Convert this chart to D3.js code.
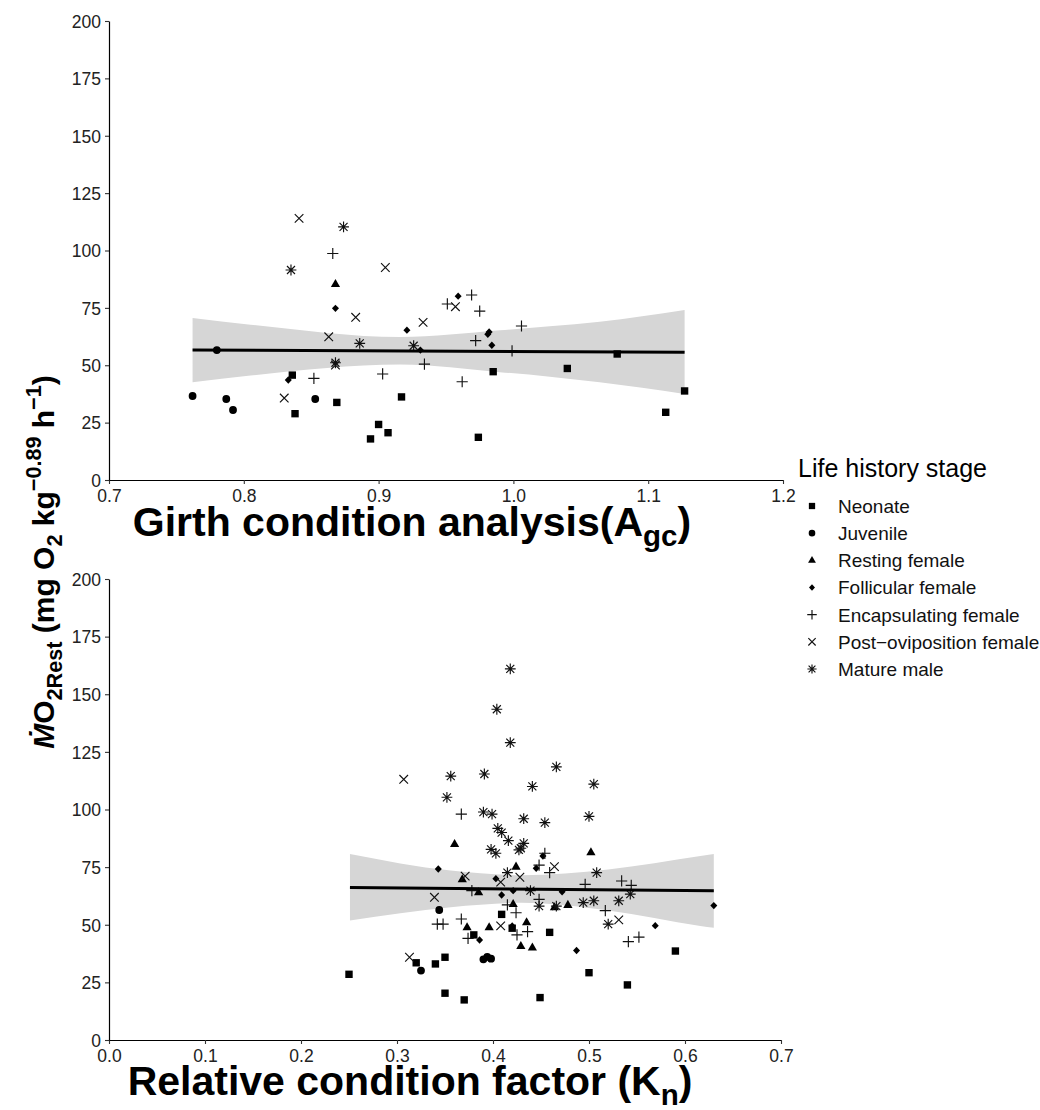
<!DOCTYPE html>
<html><head><meta charset="utf-8">
<script src="https://cdn.jsdelivr.net/npm/d3@7"></script>
<style>
body{margin:0;background:#fff;}
text{font-family:"Liberation Sans",Arial,"DejaVu Sans",sans-serif;}
</style></head>
<body><svg id="c" width="1040" height="1110"></svg>
<script>
// ---------- data ----------
const stages = ["Neonate","Juvenile","Resting female","Follicular female","Encapsulating female","Post\u2212oviposition female","Mature male"];
const stageShapes = ["square","circle","triangle","diamond","plus","cross","asterisk"];
const yTicks = [0,25,50,75,100,125,150,175,200];
const agcTicks = [0.7,0.8,0.9,1.0,1.1,1.2];
const knTicks = [0.0,0.1,0.2,0.3,0.4,0.5,0.6,0.7];

// Top panel: girth condition analysis (Agc)
const agcStage = [0,0,0,0,0,0,0,0,0,0,0,0,0, 1,1,1,1,1, 2, 3,3,3,3,3,3,3,3, 4,4,4,4,4,4,4,4,4,4,4, 5,5,5,5,5,5,5,5, 6,6,6,6,6];
const agcX = [0.836,0.869,0.917,0.838,0.900,0.907,0.894,0.974,0.985,1.040,1.077,1.127,1.113,
  0.762,0.780,0.787,0.792,0.853,
  0.868,
  0.959,0.868,0.921,0.982,0.981,0.984,0.931,0.833,
  0.866,0.969,0.951,0.975,1.006,0.972,0.999,0.934,0.852,0.903,0.962,
  0.841,0.905,0.957,0.883,0.933,0.863,0.868,0.830,
  0.874,0.835,0.886,0.926,0.868];
const agcY = [45.7,33.8,36.2,28.9,24.2,20.6,17.9,18.6,47.2,48.6,54.9,38.8,29.5,
  36.6,56.6,35.3,30.5,35.3,
  85.4,
  80.1,74.8,65.3,64.5,63.5,58.7,56.6,43.6,
  98.7,80.6,76.7,73.6,67.1,60.7,56.3,50.5,44.3,46.2,42.8,
  114.0,92.6,75.5,70.9,68.7,62.4,50.1,35.7,
  110.3,91.5,59.5,58.5,51.1];
const agcFitX = [0.762,1.127];
const agcFitY = [56.6,55.7];
const agcBandX  = [0.762,0.805,0.916,0.990,1.027,1.064,1.127];
const agcBandLo = [42.6,45.5,50.3,47.0,45.0,42.6,37.5];
const agcBandHi = [70.6,67.7,62.3,65.2,67.0,69.0,74.1];

// Bottom panel: relative condition factor (Kn)
const knStage = [0,0,0,0,0,0,0,0,0,0,0,0,0,0,
  1,1,1,1,1,
  2,2,2,2,2,2,2,2,2,2,2,2,2,
  3,3,3,3,3,3,3,3,3,3,3,3,
  4,4,4,4,4,4,4,4,4,4,4,4,4,4,4,4,4,4,4,4,
  5,5,5,5,5,5,5,5,5,
  6,6,6,6,6,6,6,6,6,6,6,6,6,6,6,6,6,6,6,6,6,6,6,6,6,6,6,6,6,6,6,6];
const knX = [0.409,0.380,0.320,0.340,0.350,0.250,0.350,0.370,0.420,0.459,0.590,0.500,0.540,0.449,
  0.344,0.325,0.390,0.394,0.398,
  0.360,0.368,0.385,0.373,0.396,0.502,0.424,0.421,0.464,0.478,0.435,0.429,0.441,
  0.343,0.403,0.386,0.452,0.445,0.421,0.472,0.409,0.420,0.569,0.487,0.630,
  0.378,0.342,0.348,0.367,0.374,0.454,0.448,0.459,0.496,0.534,0.544,0.448,0.415,0.424,0.517,0.436,0.425,0.541,0.552,0.367,
  0.371,0.339,0.313,0.464,0.428,0.408,0.531,0.408,0.307,
  0.404,0.418,0.418,0.466,0.441,0.505,0.500,0.432,0.356,0.391,0.352,0.390,0.399,0.405,0.409,0.416,0.432,0.429,0.427,0.398,0.403,0.454,0.508,0.415,0.439,0.543,0.448,0.494,0.505,0.531,0.466,0.520];
const knY = [54.5,45.6,33.5,33.0,35.9,28.5,20.3,17.4,48.5,46.7,38.6,29.2,23.9,18.4,
  56.4,30.1,35.0,36.1,35.3,
  85.0,69.7,64.1,48.9,48.9,81.4,75.2,59.0,57.6,58.6,51.1,40.8,40.1,
  74.2,70.0,43.4,79.8,74.5,64.8,64.3,62.9,49.5,49.6,38.8,58.3,
  64.8,50.3,50.3,52.5,44.1,81.0,75.9,72.6,67.5,69.0,67.1,61.0,58.6,55.2,56.1,47.0,45.6,42.7,44.6,98.0,
  71.1,61.9,35.9,75.2,70.6,68.5,52.1,49.5,113.1,
  143.5,161.0,129.0,118.5,110.0,111.0,97.0,96.0,114.5,115.4,105.3,98.9,98.0,91.8,90.0,86.5,85.3,83.2,82.5,82.7,81.0,94.3,72.6,72.6,64.8,63.3,58.1,59.6,60.4,60.4,58.1,50.3];
const knFitX = [0.251,0.630];
const knFitY = [66.2,64.7];
const knBandX  = [0.251,0.356,0.430,0.520,0.616,0.630];
const knBandLo = [51.8,57.6,59.5,56.2,49.5,48.7];
const knBandHi = [80.7,73.5,71.5,74.0,79.8,80.7];

// ---------- drawing ----------
const svg = d3.select("#c");
svg.append("rect").attr("width",1040).attr("height",1110).attr("fill","#fff");

function shapePath(type, k){
  const s = k||1;
  switch(type){
    case "square": {const h=3.7*s; return `M${-h},${-h}h${2*h}v${2*h}h${-2*h}z`;}
    case "circle": {const r=3.9*s; return `M${r},0A${r},${r} 0 1,1 ${-r},0A${r},${r} 0 1,1 ${r},0z`;}
    case "triangle": {const a=4.6*s; return `M0,${-a*1.1}L${a},${a*0.65}L${-a},${a*0.65}z`;}
    case "diamond": {const a=3.7*s; return `M0,${-a}L${a*0.95},0L0,${a}L${-a*0.95},0z`;}
    case "plus": {const a=5.6*s; return `M${-a},0H${a}M0,${-a}V${a}`;}
    case "cross": {const a=4.3*s; return `M${-a},${-a}L${a},${a}M${-a},${a}L${a},${-a}`;}
    case "asterisk": {const a=5.4*s, b=4.0*s; return `M${-a},0H${a}M0,${-a}V${a}M${-b},${-b}L${b},${b}M${-b},${b}L${b},${-b}`;}
  }
}
const filled = {square:true,circle:true,triangle:true,diamond:true};

function drawMark(g, type, x, y, k){
  const p = g.append("path").attr("d", shapePath(type,k)).attr("transform",`translate(${x},${y})`);
  if(filled[type]) p.attr("fill","#000").attr("stroke","none");
  else p.attr("fill","none").attr("stroke","#111").attr("stroke-width",1.15);
}

function richText(sel, parts, size, subShift){
  const sh = subShift || 0.28;
  parts.forEach(pt=>{
    const ts = sel.append("tspan").text(pt.t);
    if(pt.italic) ts.attr("font-style","italic");
    if(pt.s==="sub"){ ts.attr("font-size", size*0.72).attr("dy", size*sh); }
    else if(pt.s==="sup"){ ts.attr("font-size", size*0.72).attr("dy", -size*0.45); }
    if(pt.back) ts.attr("dy", pt.back);
  });
}

const titleSize = 41;
const subShift = 0.24;
function panel(opts){
  const {xDom, xRange, yRange, ticksX, fmtX, stage, xs, ys, fitX, fitY, bX, bLo, bHi, title, titleX, titleY} = opts;
  const x = d3.scaleLinear().domain(xDom).range(xRange);
  const y = d3.scaleLinear().domain([0,200]).range(yRange);
  const g = svg.append("g");
  // confidence band
  const area = d3.area().x((d,i)=>x(bX[i])).y0((d,i)=>y(bLo[i])).y1((d,i)=>y(bHi[i])).curve(d3.curveMonotoneX);
  g.append("path").attr("d", area(bX)).attr("fill","#D6D6D6");
  // points
  xs.forEach((v,i)=> drawMark(g, stageShapes[stage[i]], x(v), y(ys[i]), 1));
  // fit line
  g.append("line").attr("x1",x(fitX[0])).attr("x2",x(fitX[1])).attr("y1",y(fitY[0])).attr("y2",y(fitY[1]))
    .attr("stroke","#000").attr("stroke-width",3);
  // axes
  const ax = g.append("g").attr("transform",`translate(0,${yRange[0]})`)
    .call(d3.axisBottom(x).tickValues(ticksX).tickFormat(fmtX).tickSize(4).tickSizeOuter(0).tickPadding(4));
  const ay = g.append("g").attr("transform",`translate(${xRange[0]},0)`)
    .call(d3.axisLeft(y).tickValues(yTicks).tickFormat(d3.format("d")).tickSize(4).tickSizeOuter(0).tickPadding(4));
  [ax,ay].forEach(a=>{
    a.select(".domain").attr("stroke","#000").attr("stroke-width",1.2);
    a.selectAll(".tick line").attr("stroke","#333").attr("stroke-width",1.1);
    a.selectAll(".tick text").attr("fill","#222").attr("font-size",17.5).attr("font-family",'"Liberation Sans",Arial,sans-serif');
  });
  ax.selectAll(".tick text").attr("dy","0.8em");
  ay.selectAll(".tick text").attr("dy","0.36em");
  // x title
  const t = svg.append("text").attr("x",titleX).attr("y",titleY)
    .attr("text-anchor","middle").attr("font-weight","bold").attr("font-size",titleSize).attr("fill","#000");
  richText(t, title, titleSize, subShift);
}

panel({xDom:[0.7,1.2], xRange:[109,783], yRange:[480,21], ticksX:agcTicks, fmtX:d3.format(".1f"),
  stage:agcStage, xs:agcX, ys:agcY, fitX:agcFitX, fitY:agcFitY, bX:agcBandX, bLo:agcBandLo, bHi:agcBandHi,
  title:[{t:"Girth condition analysis(A"},{t:"gc",s:"sub"},{t:")",back:-titleSize*subShift}], titleX:412, titleY:536});

panel({xDom:[0,0.7], xRange:[109,781], yRange:[1040,579], ticksX:knTicks, fmtX:d3.format(".1f"),
  stage:knStage, xs:knX, ys:knY, fitX:knFitX, fitY:knFitY, bX:knBandX, bLo:knBandLo, bHi:knBandHi,
  title:[{t:"Relative condition factor (K"},{t:"n",s:"sub"},{t:")",back:-titleSize*subShift}], titleX:410, titleY:1095});

// y title (shared)
const fs = 30;
const yt = svg.append("text").attr("transform","translate(54,562) rotate(-90)")
  .attr("text-anchor","middle").attr("font-weight","bold").attr("font-size",fs).attr("fill","#000");
richText(yt, [
  {t:"\u1E40",italic:true},{t:"O"},{t:"2Rest",s:"sub"},
  {t:" (mg O",back:-fs*0.28},{t:"2",s:"sub"},
  {t:" kg",back:-fs*0.28},{t:"\u22120.89",s:"sup"},
  {t:" h",back:fs*0.45},{t:"\u22121",s:"sup"},{t:")",back:fs*0.45}
], fs, 0.28);

// legend
const lg = svg.append("g");
lg.append("text").attr("x",798).attr("y",477).attr("font-size",25).attr("fill","#000").text("Life history stage");
const legY = d3.scaleLinear().domain([0,6]).range([506,669]);
stages.forEach((s,i)=>{
  drawMark(lg, stageShapes[i], 812, legY(i), 0.85);
  lg.append("text").attr("x",838).attr("y",legY(i)).attr("dy","0.36em").attr("font-size",19).attr("fill","#111").text(s);
});
</script></body></html>
